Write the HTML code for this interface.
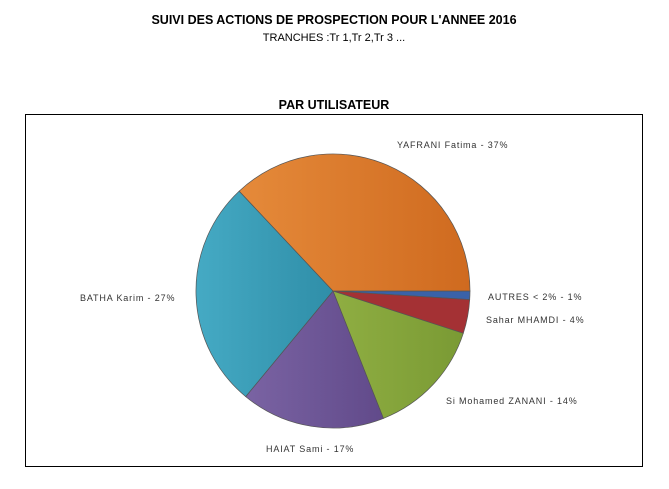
<!DOCTYPE html>
<html><head><style>
body{margin:0;background:#fff;width:669px;height:484px;overflow:hidden}
</style></head><body>
<svg width="669" height="484" xmlns="http://www.w3.org/2000/svg" font-family="Liberation Sans, Arial, sans-serif">
<defs>
<linearGradient id="o" x1="0" y1="0" x2="1" y2="0"><stop offset="0" stop-color="#e58a3a"/><stop offset="1" stop-color="#cf6a1f"/></linearGradient>
<linearGradient id="b" x1="0" y1="0" x2="1" y2="0"><stop offset="0" stop-color="#45aac4"/><stop offset="1" stop-color="#2f8ea8"/></linearGradient>
<linearGradient id="p" x1="0" y1="0" x2="1" y2="0"><stop offset="0" stop-color="#7a63a3"/><stop offset="1" stop-color="#614a8a"/></linearGradient>
<linearGradient id="g" x1="0" y1="0" x2="1" y2="0"><stop offset="0" stop-color="#8fae42"/><stop offset="1" stop-color="#7a9a34"/></linearGradient>
</defs>
<text x="334" y="24" text-anchor="middle" font-size="12.5" font-weight="bold" fill="#000">SUIVI DES ACTIONS DE PROSPECTION POUR L'ANNEE 2016</text>
<text x="334" y="41" text-anchor="middle" font-size="11" fill="#000">TRANCHES :Tr 1,Tr 2,Tr 3 ...</text>
<text x="334" y="109" text-anchor="middle" font-size="12.5" font-weight="bold" fill="#000">PAR UTILISATEUR</text>
<rect x="25.5" y="114.5" width="617" height="352" fill="none" stroke="#000" stroke-width="1"/>
<g stroke="#555" stroke-width="0.7">
<path d="M333,291 L470,291 A137,137 0 0 1 469.7,299.6 Z" fill="#3a62a8"/>
<path d="M333,291 L469.7,299.6 A137,137 0 0 1 463.3,333.3 Z" fill="#a43134"/>
<path d="M333,291 L463.3,333.3 A137,137 0 0 1 383.4,418.4 Z" fill="url(#g)"/>
<path d="M333,291 L383.4,418.4 A137,137 0 0 1 245.7,396.6 Z" fill="url(#p)"/>
<path d="M333,291 L245.7,396.6 A137,137 0 0 1 239.2,191.1 Z" fill="url(#b)"/>
<path d="M333,291 L239.2,191.1 A137,137 0 0 1 470,291 Z" fill="url(#o)"/>
</g>
<g font-size="9" fill="#333" letter-spacing="0.85">
<text x="397" y="148">YAFRANI Fatima - 37%</text>
<text x="488" y="300">AUTRES &lt; 2%  - 1%</text>
<text x="486" y="323">Sahar MHAMDI - 4%</text>
<text x="446" y="404">Si Mohamed ZANANI - 14%</text>
<text x="266" y="452">HAIAT Sami - 17%</text>
<text x="80" y="301">BATHA Karim - 27%</text>
</g>
</svg>
</body></html>
